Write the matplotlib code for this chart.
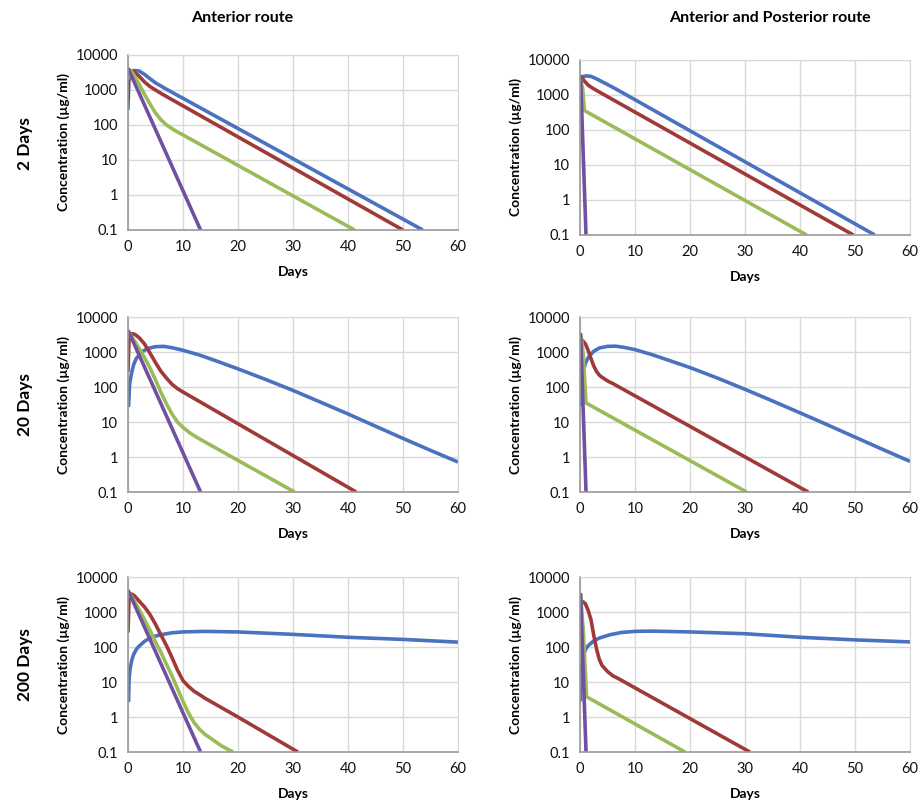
import matplotlib
matplotlib.use("Agg")
import matplotlib.pyplot as plt

plt.rcParams["font.family"] = ["Lato", "DejaVu Sans"]

# (day, concentration µg/ml), per panel and curve
# Anterior route, 2 days
ant_2_blue = [(0, 270), (0.15, 1800), (0.5, 3200), (1.2, 3600), (2, 3500), (3, 2800), (4, 2100),
              (5, 1600), (7, 1050), (53.6, 0.1)]
ant_2_red = [(0, 470), (0.1, 2500), (0.5, 3500), (1, 3400), (2, 2500), (3, 1700), (4, 1250),
             (5, 1000), (6, 800), (8, 530), (50, 0.1)]
ant_2_green = [(0, 2000), (0.1, 3200), (0.4, 3700), (1, 2800), (2, 1500), (3, 750), (4, 400),
               (5, 220), (6, 140), (7, 100), (8.5, 70), (10, 52), (41.2, 0.1)]
ant_2_purple = [(0, 4200), (13.2, 0.1)]

# Anterior and posterior route, 2 days
ap_2_blue = [(0, 1500), (0.2, 2800), (0.6, 3400), (1.2, 3500), (2, 3400), (3, 2900), (4, 2400),
             (5, 2000), (7, 1350), (53.6, 0.1)]
ap_2_red = [(0, 3500), (0.3, 3200), (0.8, 2500), (1.5, 1900), (2.5, 1500), (4, 1100), (49.7, 0.1)]
ap_2_green = [(0, 3300), (0.5, 1500), (0.8, 360), (41.2, 0.1)]
ap_2_purple = [(0.1, 3500), (1.1, 0.1)]

# Anterior route, 20 days
ant_20_blue = [(0.1, 27), (0.3, 120), (0.6, 230), (1, 420), (1.5, 650), (2.5, 1000), (3.5, 1250),
               (5, 1420), (6.5, 1450), (8, 1330), (10, 1120), (13, 820), (16, 560), (20, 330),
               (25, 165), (30, 80), (35, 37), (40, 17), (45, 7.6), (50, 3.4), (55, 1.55), (60, 0.72)]
ant_20_red = [(0, 270), (0.2, 2500), (0.6, 3300), (1, 3300), (1.5, 3000), (2.1, 2500), (3, 1700),
              (3.9, 1000), (5, 500), (6, 280), (7, 180), (8, 120), (9, 90), (10, 72), (41.5, 0.1)]
ant_20_green = [(0, 2500), (0.2, 3600), (1, 2300), (2, 1300), (3, 700), (4, 350), (5, 160), (6, 70),
                (7, 33), (8, 17), (9, 10), (10, 7), (11.5, 4.6), (13, 3.3), (20, 0.8), (30.3, 0.1)]
ant_20_purple = [(0, 4200), (13.2, 0.1)]

# Anterior and posterior route, 20 days
ap_20_blue = [(0.1, 28), (0.3, 150), (0.6, 280), (1, 480), (1.5, 700), (2.5, 1050), (3.5, 1300),
              (5, 1450), (6.5, 1470), (8, 1360), (10, 1170), (13, 850), (16, 590), (20, 360),
              (25, 180), (30, 86), (35, 40), (40, 18.3), (45, 8.3), (50, 3.7), (55, 1.66), (60, 0.75)]
ap_20_red = [(0.2, 2200), (0.5, 2100), (1, 1700), (1.5, 1100), (2, 650), (2.5, 400), (3, 280),
             (3.5, 220), (4, 190), (5, 150), (6, 125), (41.5, 0.1)]
ap_20_green = [(0.2, 3000), (0.6, 800), (1.1, 35), (30.3, 0.1)]
ap_20_purple = [(0.1, 3500), (1.1, 0.1)]

# Anterior route, 200 days
ant_200_blue = [(0.1, 2.7), (0.2, 12), (0.4, 25), (0.7, 42), (1, 60), (1.5, 85), (2, 105), (3, 145),
                (4, 180), (5, 205), (6, 225), (8, 255), (10, 270), (14, 280), (20, 270), (30, 230),
                (40, 190), (50, 165), (60, 138)]
ant_200_red = [(0, 260), (0.2, 2500), (0.6, 3300), (1.2, 2900), (2.1, 2000), (3, 1400), (3.9, 900),
               (5, 450), (6, 220), (7, 110), (8, 50), (9, 22), (10, 11), (11, 7.5), (12, 5.5),
               (14.2, 3.3), (20, 1.0), (30.9, 0.1)]
ant_200_green = [(0, 2500), (0.2, 3600), (1, 2300), (2, 1200), (3, 600), (4, 300), (5, 140), (6, 70),
                 (7, 32), (8, 15), (9, 6.5), (10, 2.8), (11, 1.3), (12, 0.7), (13, 0.45), (14, 0.32),
                 (15.5, 0.22), (17, 0.15), (19.1, 0.1)]
ant_200_purple = [(0, 4200), (13.2, 0.1)]

# Anterior and posterior route, 200 days
ap_200_blue = [(0.1, 2.8), (0.2, 15), (0.3, 28), (0.6, 55), (1, 85), (1.5, 110), (2.4, 145),
               (3.5, 180), (5.5, 225), (7.5, 260), (10, 280), (13, 285), (20, 270), (30, 240),
               (40, 190), (50, 160), (60, 140)]
ap_200_red = [(0.2, 2000), (0.6, 1950), (1, 1700), (1.5, 1100), (2, 600), (2.5, 220), (3, 90),
              (3.5, 45), (4, 30), (5, 20), (6, 15), (7, 12.5), (30.9, 0.1)]
ap_200_green = [(0.1, 3300), (0.6, 300), (1.2, 3.8), (19.1, 0.1)]
ap_200_purple = [(0.1, 3500), (1.1, 0.1)]

col_titles = ["Anterior route", "Anterior and Posterior route"]
row_titles = ["2 Days", "20 Days", "200 Days"]
y_ticks = [0.1, 1, 10, 100, 1000, 10000]
y_tick_labels = ["0.1", "1", "10", "100", "1000", "10000"]
x_ticks = [0, 10, 20, 30, 40, 50, 60]

panels = [
    [[ant_2_blue, ant_2_red, ant_2_green, ant_2_purple],
     [ap_2_blue, ap_2_red, ap_2_green, ap_2_purple]],
    [[ant_20_blue, ant_20_red, ant_20_green, ant_20_purple],
     [ap_20_blue, ap_20_red, ap_20_green, ap_20_purple]],
    [[ant_200_blue, ant_200_red, ant_200_green, ant_200_purple],
     [ap_200_blue, ap_200_red, ap_200_green, ap_200_purple]],
]
colors = ["#4A72C0", "#A03A38", "#9BBB59", "#7050A0"]

fig = plt.figure(figsize=(9.2, 8.05), dpi=100)

lefts = [0.1391, 0.6304]
bottoms = [[0.7143, 0.7081], [0.3888, 0.3888], [0.0658, 0.0658]]
w, h = 0.3587, 0.2174

for r in range(3):
    for c in range(2):
        ax = fig.add_axes([lefts[c], bottoms[r][c], w, h])
        for curve, col in zip(panels[r][c], colors):
            xs = [p[0] for p in curve]
            ys = [p[1] for p in curve]
            ax.plot(xs, ys, color=col, lw=2.6, solid_capstyle="butt", solid_joinstyle="round")
        ax.set_yscale("log")
        ax.set_ylim(0.1, 10000)
        ax.set_xlim(0, 60)
        ax.set_yticks(y_ticks)
        ax.set_yticklabels(y_tick_labels)
        ax.minorticks_off()
        ax.set_xticks(x_ticks)
        ax.tick_params(length=0, labelsize=10.5, pad=7, colors="#111111")
        ax.grid(True, color="#D9D9D9", lw=1)
        ax.set_axisbelow(True)
        for s in ["top", "right"]:
            ax.spines[s].set_color("#D9D9D9")
        for s in ["left", "bottom"]:
            ax.spines[s].set_color("#9A9A9A")
            ax.spines[s].set_linewidth(1.2)
        ax.set_xlabel("Days", fontsize=10, fontweight="bold", labelpad=9)
        ax.set_ylabel("Concentration (µg/ml)", fontsize=10, fontweight="bold", labelpad=4)

fig.text(0.263, 0.978, col_titles[0], ha="center", va="center", fontsize=11.5, fontweight="bold")
fig.text(0.837, 0.978, col_titles[1], ha="center", va="center", fontsize=11.5, fontweight="bold")
for y, t in zip([0.822, 0.497, 0.174], row_titles):
    fig.text(0.027, y, t, ha="center", va="center", rotation=90, fontsize=12.5, fontweight="bold")

fig.savefig("out.png", dpi=100)
